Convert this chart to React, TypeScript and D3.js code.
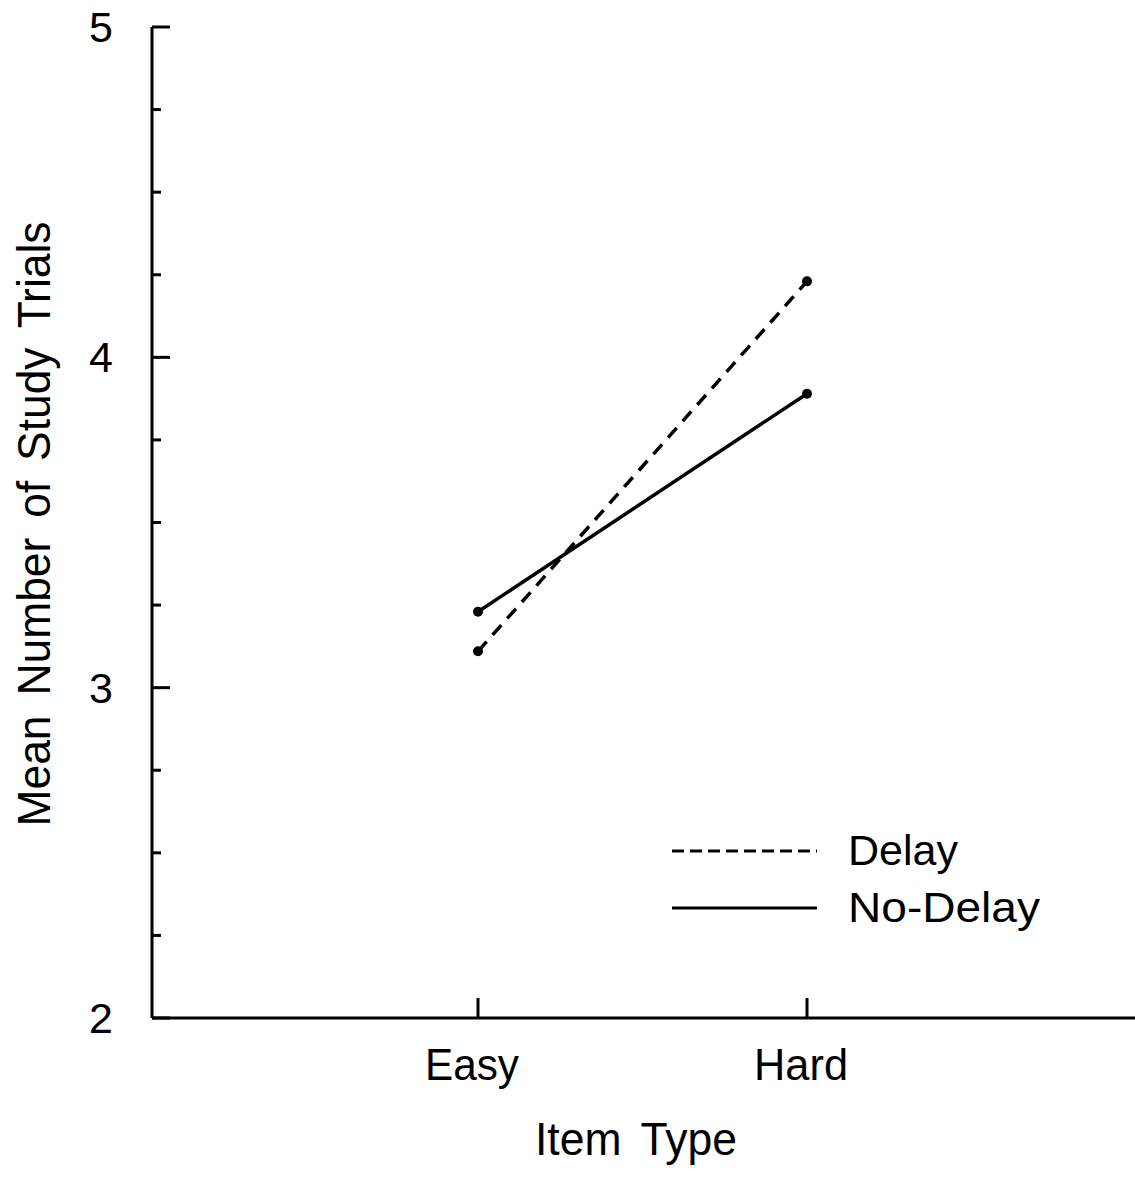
import { useEffect, useRef } from "react";
import * as d3 from "d3";

const categories = ["Easy", "Hard"];
const delayValues = [3.11, 4.23];
const noDelayValues = [3.23, 3.89];
const majorTicks = [2, 3, 4, 5];
const minorTicks = [2.25, 2.5, 2.75, 3.25, 3.5, 3.75, 4.25, 4.5, 4.75];
const seriesNames = ["Delay", "No-Delay"];

const App = () => {
  const svgRef = useRef<SVGSVGElement | null>(null);

  const width = 1135;
  const height = 1181;

  useEffect(() => {
    if (!svgRef.current) return;
    const svg = d3.select(svgRef.current);
    svg.selectAll("*").remove();

    const font = "'Liberation Sans', Arial, sans-serif";
    const axisX = 152;
    const axisY = 1018;

    const y = d3.scaleLinear().domain([2, 5]).range([axisY, 27]);
    const x = d3.scalePoint<string>().domain(categories).range([478, 807]);

    // axes
    svg.append("line")
      .attr("x1", axisX).attr("x2", axisX)
      .attr("y1", y(5)).attr("y2", axisY)
      .attr("stroke", "#000").attr("stroke-width", 3);
    svg.append("line")
      .attr("x1", axisX).attr("x2", width)
      .attr("y1", axisY).attr("y2", axisY)
      .attr("stroke", "#000").attr("stroke-width", 3);

    // y ticks (pointing inward)
    svg.selectAll(".major").data(majorTicks).enter().append("line")
      .attr("x1", axisX).attr("x2", axisX + 18)
      .attr("y1", d => y(d)).attr("y2", d => y(d))
      .attr("stroke", "#000").attr("stroke-width", 3);
    svg.selectAll(".minor").data(minorTicks).enter().append("line")
      .attr("x1", axisX).attr("x2", axisX + 9)
      .attr("y1", d => y(d)).attr("y2", d => y(d))
      .attr("stroke", "#000").attr("stroke-width", 3);
    svg.selectAll(".ylab").data(majorTicks).enter().append("text")
      .attr("x", 101).attr("y", d => y(d) + 15)
      .attr("text-anchor", "middle")
      .attr("font-family", font).attr("font-size", 43)
      .text(d => d);

    // x ticks
    svg.selectAll(".xt").data(categories).enter().append("line")
      .attr("x1", d => x(d)!).attr("x2", d => x(d)!)
      .attr("y1", axisY).attr("y2", axisY - 20)
      .attr("stroke", "#000").attr("stroke-width", 3);
    svg.selectAll(".xlab").data(categories).enter().append("text")
      .attr("x", d => x(d)! - 6).attr("y", 1080)
      .attr("text-anchor", "middle")
      .attr("font-family", font).attr("font-size", 44)
      .attr("textLength", 94).attr("lengthAdjust", "spacingAndGlyphs")
      .text(d => d);

    // axis titles
    svg.append("text")
      .attr("x", 636).attr("y", 1155)
      .attr("text-anchor", "middle")
      .attr("font-family", font).attr("font-size", 47)
      .attr("word-spacing", 8)
      .attr("textLength", 202).attr("lengthAdjust", "spacingAndGlyphs")
      .text("Item Type");
    svg.append("text")
      .attr("transform", "translate(50,524) rotate(-90)")
      .attr("text-anchor", "middle")
      .attr("font-family", font).attr("font-size", 47)
      .attr("word-spacing", 8)
      .attr("textLength", 605).attr("lengthAdjust", "spacingAndGlyphs")
      .text("Mean Number of Study Trials");

    // series
    const line = d3.line<number>()
      .x((_, i) => x(categories[i])!)
      .y(d => y(d));
    const series = [
      { name: seriesNames[0], values: delayValues, dash: "13,9", len: 110 },
      { name: seriesNames[1], values: noDelayValues, dash: null, len: 192 },
    ];
    series.forEach(s => {
      svg.append("path")
        .attr("d", line(s.values))
        .attr("fill", "none")
        .attr("stroke", "#000")
        .attr("stroke-width", 3.5)
        .attr("stroke-dasharray", s.dash);
      svg.selectAll(null).data(s.values).enter().append("circle")
        .attr("cx", (_, i) => x(categories[i])!)
        .attr("cy", d => y(d))
        .attr("r", 5)
        .attr("fill", "#000");
    });

    // legend
    const legend = svg.append("g");
    series.forEach((s, i) => {
      const ly = 851 + i * 57;
      legend.append("line")
        .attr("x1", 672).attr("x2", 817)
        .attr("y1", ly).attr("y2", ly)
        .attr("stroke", "#000").attr("stroke-width", 3)
        .attr("stroke-dasharray", s.dash ? "12,6" : null);
      legend.append("text")
        .attr("x", 848).attr("y", ly + 14)
        .attr("font-family", font).attr("font-size", 42)
        .attr("textLength", s.len).attr("lengthAdjust", "spacingAndGlyphs")
        .text(s.name);
    });
  }, []);

  return (
    <div style={{ position: "absolute", left: 0, top: 0, width: `${width}px`, height: `${height}px`, background: "#fff" }}>
      <svg ref={svgRef} width={width} height={height} viewBox={`0 0 ${width} ${height}`} />
    </div>
  );
};

export default App;
